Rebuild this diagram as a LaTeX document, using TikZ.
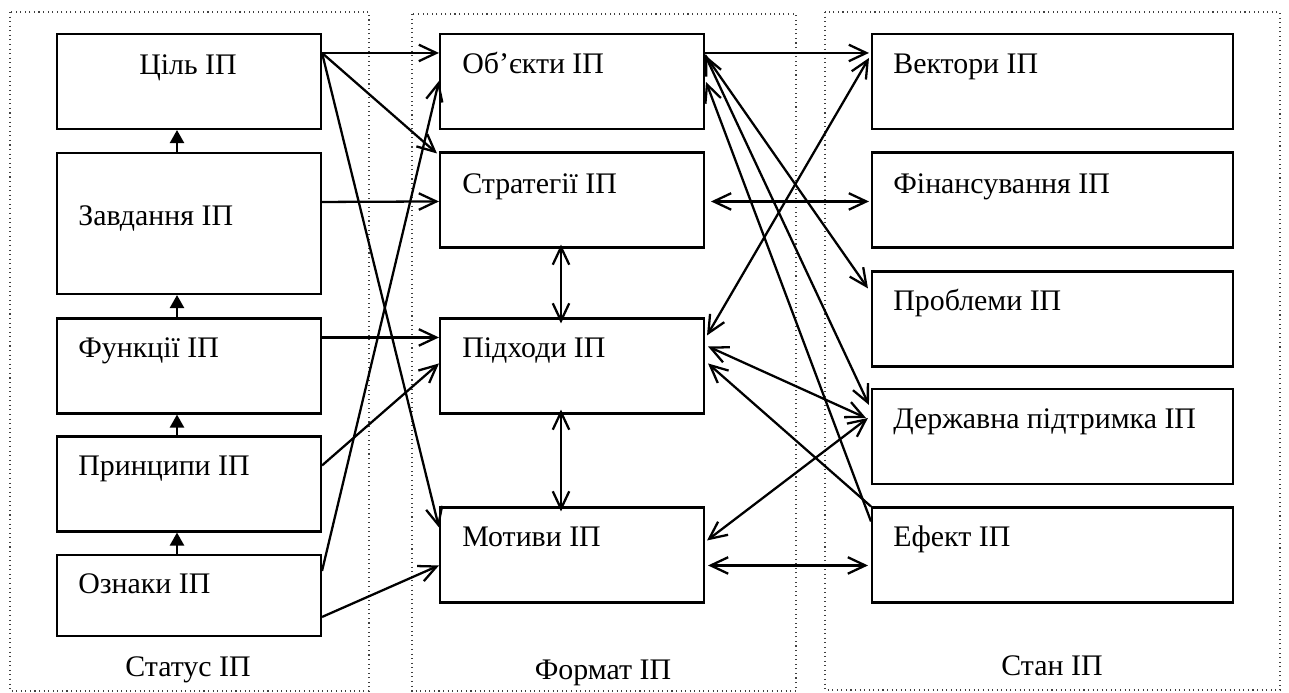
\documentclass[tikz,border=0pt]{standalone}
\usepackage{fontspec}
\setmainfont{Liberation Serif}
\usetikzlibrary{arrows.meta,calc}

\tikzset{
  box/.style={draw, line width=1.2pt, minimum width=5.28cm, minimum height=1.9cm, inner sep=0pt},
  wide/.style={minimum width=7.22cm},
  txt/.style={anchor=base west, inner sep=0pt, font=\fontsize{17}{20}\selectfont},
  arr/.style={line width=1.3pt, -{Straight Barb[length=3.5mm,width=3.3mm]}},
  darr/.style={line width=1.3pt, {Straight Barb[length=3.5mm,width=3.3mm]}-{Straight Barb[length=3.5mm,width=3.3mm]}},
  uparr/.style={line width=1.3pt, -{Triangle[length=2.6mm,width=2.8mm]}},
  frame/.style={dotted, line width=0.6pt, black!75}
}

\begin{document}
\begin{tikzpicture}[x=0.02cm, y=-0.02cm]
\useasboundingbox (0,0) rectangle (1289,693);

% Dotted frames
\draw[frame] (10,12) rectangle (369,691);
\draw[frame] (412,14) rectangle (796,691);
\draw[frame] (825,12) rectangle (1280,690);

% Left column: status
\node[box] (cil) at (189,81.5) {};
\node[box, minimum height=2.82cm] (zav) at (189,223.5) {};
\node[box] (fun) at (189,366) {};
\node[box] (pri) at (189,484) {};
\node[box, minimum height=1.62cm] (ozn) at (189,595.5) {};

\node[txt, anchor=base] (cil-t) at (188,74) {Ціль ІП};
\node[txt] (zav-t) at (78,225) {Завдання ІП};
\node[txt] (fun-t) at (78,357) {Функції ІП};
\node[txt] (pri-t) at (78,475) {Принципи ІП};
\node[txt] (ozn-t) at (78,593) {Ознаки ІП};
\node[txt, anchor=base] (status) at (188,676) {Статус ІП};

% Middle column: format
\node[box] (obj) at (572,81.5) {};
\node[box] (str) at (572,200) {};
\node[box] (pid) at (572,366) {};
\node[box] (mot) at (572,555) {};

\node[txt] (obj-t) at (462,73) {Об’єкти ІП};
\node[txt] (str-t) at (462,193) {Стратегії ІП};
\node[txt] (pid-t) at (462,357) {Підходи ІП};
\node[txt] (mot-t) at (462,546) {Мотиви ІП};
\node[txt, anchor=base] (format) at (603,679) {Формат ІП};

% Right column: state
\node[box, wide] (vek) at (1052.5,81.5) {};
\node[box, wide] (fin) at (1052.5,200) {};
\node[box, wide] (pro) at (1052.5,319) {};
\node[box, wide] (der) at (1052.5,436.5) {};
\node[box, wide] (efe) at (1052.5,555) {};

\node[txt] (vek-t) at (893,73) {Вектори ІП};
\node[txt] (fin-t) at (893,193) {Фінансування ІП};
\node[txt] (pro-t) at (893,310) {Проблеми ІП};
\node[txt] (der-t) at (893,428) {Державна підтримка ІП};
\node[txt] (efe-t) at (893,546) {Ефект ІП};
\node[txt, anchor=base] (stan) at (1052,675) {Стан ІП};

% Upward chain in the left column
\draw[uparr] ($(zav.north)+(-12,0)$) -- ($(cil.south)+(-12,0)$);
\draw[uparr] ($(fun.north)+(-12,0)$) -- ($(zav.south)+(-12,0)$);
\draw[uparr] ($(pri.north)+(-12,0)$) -- ($(fun.south)+(-12,0)$);
\draw[uparr] ($(ozn.north)+(-12,0)$) -- ($(pri.south)+(-12,0)$);

% Status -> format
\draw[arr] ($(cil.north east)+(0,20)$) -- ($(obj.north west)+(0,20)$);
\draw[arr] ($(cil.north east)+(0,20)$) -- ($(str.north west)+(-2,2)$);
\draw[arr] ($(cil.north east)+(0,20)$) -- ($(mot.north west)+(0,21)$);
\draw[arr] ($(zav.north east)+(0,50)$) -- ($(str.north west)+(0,50)$);
\draw[arr] ($(fun.north east)+(0,20)$) -- ($(pid.north west)+(0,20)$);
\draw[arr] ($(pri.north east)+(0,30)$) -- ($(pid.north west)+(0,46)$);
\draw[arr] ($(ozn.north east)+(0,17)$) -- ($(obj.north west)+(0,48)$);
\draw[arr] ($(ozn.north east)+(0,63)$) -- ($(mot.north west)+(0,59)$);

% Inside the format column
\draw[darr] ($(str.south)+(-11,-4)$) -- ($(pid.north)+(-11,6)$);
\draw[darr] ($(pid.south)+(-11,-5)$) -- ($(mot.north)+(-11,5)$);

% Format <-> state
\draw[arr] ($(obj.north east)+(0,20)$) -- ($(vek.north west)+(-2,20)$);
\draw[darr] ($(vek.north west)+(-2,25)$) -- ($(pid.north east)+(2,18)$);
\draw[darr] ($(str.north east)+(6,50)$) -- ($(fin.north west)+(-2,50)$);
\draw[arr] ($(obj.north east)+(0,22)$) -- ($(pro.north west)+(-3,18)$);
\draw[darr] ($(obj.north east)+(0,22)$) -- ($(der.north west)+(-2,17)$);
\draw[darr] ($(pid.north east)+(3,29)$) -- ($(der.north west)+(-5,30)$);
\draw[darr] ($(mot.north east)+(2,34)$) -- ($(der.north west)+(-3,30)$);
\draw[arr] (efe.north west) -- ($(pid.north east)+(3,46)$);
\draw[arr] ($(efe.north west)+(0,15)$) -- ($(obj.north east)+(1,49)$);
\draw[darr] ($(mot.north east)+(3,59)$) -- ($(efe.north west)+(-3,59)$);

\end{tikzpicture}
\end{document}
